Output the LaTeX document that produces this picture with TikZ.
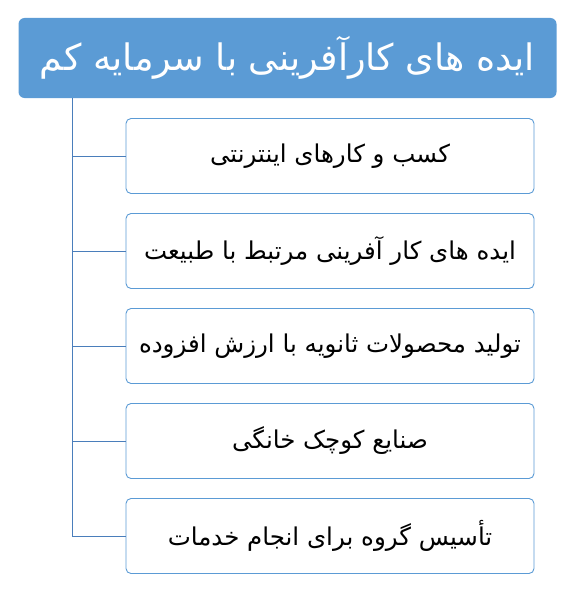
\documentclass[tikz,border=0pt]{standalone}
\usepackage{fontspec}
\usepackage{tikz}
\usetikzlibrary{positioning}
\newfontfamily\farsifont[Script=Arabic]{DejaVu Sans}
\TeXXeTstate=1
\definecolor{ideablue}{RGB}{91,155,213}
\definecolor{linkblue}{RGB}{74,126,187}
\tikzset{
  headbox/.style={shape=rectangle,rounded corners=6pt,fill=ideablue,text=white,minimum height=80pt,minimum width=538pt,font=\farsifont\fontsize{36.5}{42}\selectfont,align=center},
  itembox/.style={shape=rectangle,rounded corners=5pt,draw=ideablue,line width=0.9pt,fill=white,minimum height=75pt,minimum width=408pt,font=\farsifont\fontsize{24.5}{29}\selectfont,align=center},
  branch/.style={draw=linkblue,line width=0.9pt}
}

\begin{document}
\begin{tikzpicture}

\useasboundingbox (0pt,0pt) rectangle (577pt,-602pt);

\path (287.5pt,-58pt) node [headbox] (title) {\beginR ایده های کارآفرینی با سرمایه کم\endR};

\path (330pt,-156pt) node [itembox] (web) {\beginR کسب و کارهای اینترنتی\endR};
\path (330pt,-251pt) node [itembox] (nature) {\beginR ایده های کار آفرینی مرتبط با طبیعت\endR};
\path (330pt,-346pt) node [itembox] (byproduct) {\beginR تولید محصولات ثانویه با ارزش افزوده\endR};
\path (330pt,-441pt) node [itembox] (homecraft) {\beginR صنایع کوچک خانگی\endR};
\path (330pt,-536pt) node [itembox] (service) {\beginR تأسیس گروه برای انجام خدمات\endR};

\coordinate (trunk) at (72.5pt,-98pt);

\draw [branch] (trunk) |- (service.west);
\draw [branch] (trunk |- web.west) -- (web.west);
\draw [branch] (trunk |- nature.west) -- (nature.west);
\draw [branch] (trunk |- byproduct.west) -- (byproduct.west);
\draw [branch] (trunk |- homecraft.west) -- (homecraft.west);

\end{tikzpicture}
\end{document}
